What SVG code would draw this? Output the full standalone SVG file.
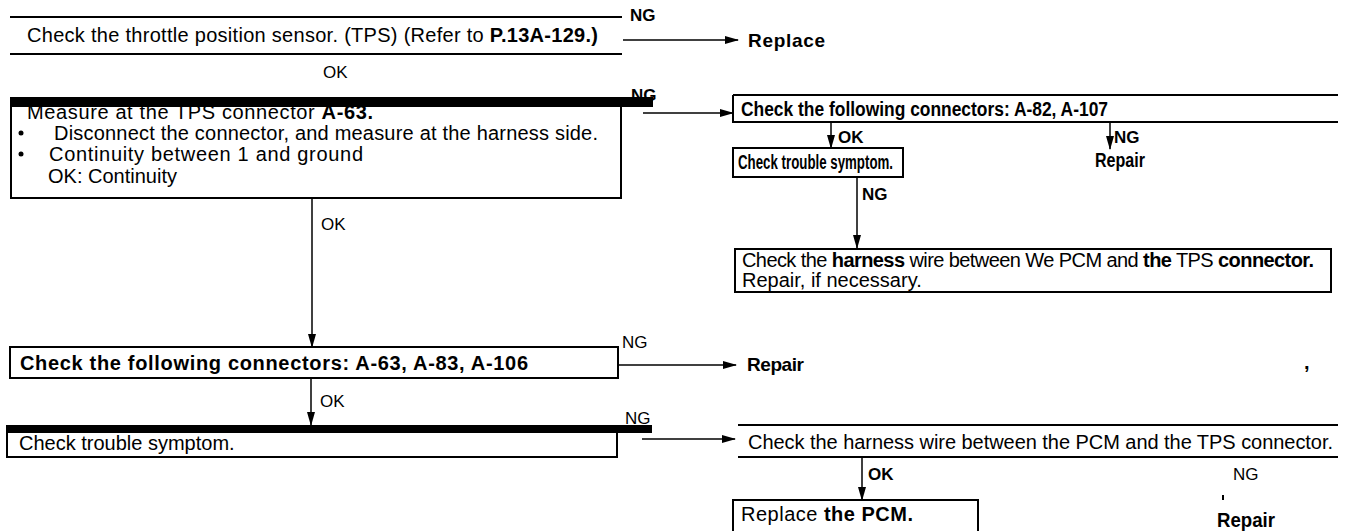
<svg xmlns="http://www.w3.org/2000/svg" width="1351" height="531" viewBox="0 0 1351 531">
<style>
text{font-family:"Liberation Sans",Arial,sans-serif;font-size:20px;fill:#000}
.b{font-weight:bold}
.s19{font-size:19px}
.lbl{font-size:17px}
.ln{stroke:#000;stroke-width:2;fill:none}
.thin{stroke:#000;stroke-width:1.5;fill:none}
</style>
<defs>
<marker id="ah" markerWidth="14" markerHeight="8" refX="13" refY="4" orient="auto" markerUnits="userSpaceOnUse">
<path d="M0,0 L14,4 L0,8 Z" fill="#000"/>
</marker>
</defs>
<rect width="1351" height="531" fill="#fff"/>

<g id="n1">
<line class="ln" x1="10" y1="17" x2="622" y2="17" stroke-width="3"/>
<line class="ln" x1="10" y1="54" x2="622" y2="54" stroke-width="3"/>
<text x="27" y="42" textLength="571">Check the throttle position sensor. (TPS) (Refer to <tspan class="b">P.13A-129.)</tspan></text>
</g>
<g id="n_replace1"><text class="b s19" x="748" y="47" textLength="77">Replace</text></g>

<g id="n2">
<rect x="10" y="97" width="643" height="10" fill="#000"/>
<line class="ln" x1="11" y1="97" x2="11" y2="199"/>
<line class="ln" x1="621" y1="107" x2="621" y2="199"/>
<line class="ln" x1="10" y1="198" x2="622" y2="198"/>
<text x="27" y="119" textLength="346">Measure at the TPS connector <tspan class="b">A-63.</tspan></text>
<circle cx="21" cy="133" r="2.5"/>
<text x="54" y="140" textLength="544">Disconnect the connector, and measure at the harness side.</text>
<circle cx="21" cy="154" r="2.5"/>
<text x="49" y="161" textLength="314">Continuity between 1 and ground</text>
<text x="48" y="183">OK:  Continuity</text>
</g>

<g id="n3">
<line class="ln" x1="733" y1="95" x2="1338" y2="95"/>
<line class="ln" x1="733" y1="95" x2="733" y2="123"/>
<line class="ln" x1="733" y1="122" x2="1338" y2="122"/>
<text class="b" x="741" y="116" font-size="19" textLength="367" lengthAdjust="spacingAndGlyphs">Check the following connectors: A-82, A-107</text>
</g>

<g id="n_sym1">
<rect class="ln" x="733" y="148" width="170" height="29"/>
<text class="b" x="738" y="169" font-size="18" textLength="155" lengthAdjust="spacingAndGlyphs">Check trouble symptom.</text>
</g>
<g id="n_repair1"><text class="b" x="1095" y="167" font-size="18" textLength="50" lengthAdjust="spacingAndGlyphs">Repair</text></g>

<g id="n4">
<rect class="ln" x="735" y="249" width="596" height="43"/>
<text x="742" y="267" font-size="16" textLength="572">Check the <tspan class="b">harness</tspan> wire between We PCM and <tspan class="b">the</tspan> TPS <tspan class="b">connector.</tspan></text>
<text x="742" y="287" font-size="17">Repair, if necessary.</text>
</g>

<g id="n5">
<rect class="ln" x="10" y="347" width="608" height="31"/>
<text class="b" x="20" y="370" textLength="508">Check the following connectors: A-63, A-83, A-106</text>
</g>
<g id="n_repair2"><text class="b s19" x="747" y="371" textLength="57">Repair</text></g>
<text class="b" x="1304" y="369">,</text>

<g id="n6">
<rect x="7" y="425" width="645" height="8" fill="#000"/>
<line class="ln" x1="7" y1="425" x2="7" y2="458"/>
<line class="ln" x1="617" y1="433" x2="617" y2="458"/>
<line class="ln" x1="7" y1="457" x2="618" y2="457"/>
<text x="19" y="450" font-size="17">Check trouble symptom.</text>
</g>

<g id="n7">
<line class="ln" x1="738" y1="425" x2="1338" y2="425" stroke-width="3"/>
<line class="ln" x1="738" y1="457" x2="1338" y2="457" stroke-width="3"/>
<text x="748" y="449" textLength="585">Check the harness wire between the PCM and the TPS connector.</text>
</g>

<g id="n8">
<path class="ln" d="M733,531 V500 H978 V531"/>
<text x="741" y="521" textLength="172">Replace <tspan class="b">the PCM.</tspan></text>
</g>
<g id="n_repair3"><text class="b" x="1217" y="527" font-size="18" textLength="58" lengthAdjust="spacingAndGlyphs">Repair</text></g>

<g id="connectors">
<line class="thin" x1="623" y1="40" x2="738" y2="40" marker-end="url(#ah)"/>
<text class="b lbl" x="630" y="21">NG</text>
<text class="lbl" x="323" y="78">OK</text>

<text class="b lbl" x="631" y="101">NG</text>
<line class="thin" x1="643" y1="113" x2="733" y2="113" marker-end="url(#ah)"/>

<line class="thin" x1="831" y1="123" x2="831" y2="148" marker-end="url(#ah)"/>
<text class="b lbl" x="838" y="143">OK</text>
<line class="thin" x1="1110" y1="123" x2="1110" y2="149" marker-end="url(#ah)"/>
<text class="b lbl" x="1114" y="143">NG</text>

<line class="thin" x1="857" y1="177" x2="857" y2="248" marker-end="url(#ah)"/>
<text class="b lbl" x="862" y="200">NG</text>

<line class="thin" x1="312" y1="198" x2="312" y2="347" marker-end="url(#ah)"/>
<text class="lbl" x="321" y="230">OK</text>

<text class="lbl" x="622" y="348">NG</text>
<line class="thin" x1="618" y1="365" x2="736" y2="365" marker-end="url(#ah)"/>

<line class="thin" x1="311" y1="378" x2="311" y2="425" marker-end="url(#ah)"/>
<text class="lbl" x="320" y="407">OK</text>

<text class="lbl" x="625" y="424">NG</text>
<line class="thin" x1="642" y1="439" x2="735" y2="439" marker-end="url(#ah)"/>

<line class="thin" x1="862" y1="457" x2="862" y2="500" marker-end="url(#ah)"/>
<text class="b lbl" x="868" y="480">OK</text>
<text class="lbl" x="1233" y="480">NG</text>
<line class="ln" x1="1223" y1="495" x2="1223" y2="500"/>
</g>
</svg>
